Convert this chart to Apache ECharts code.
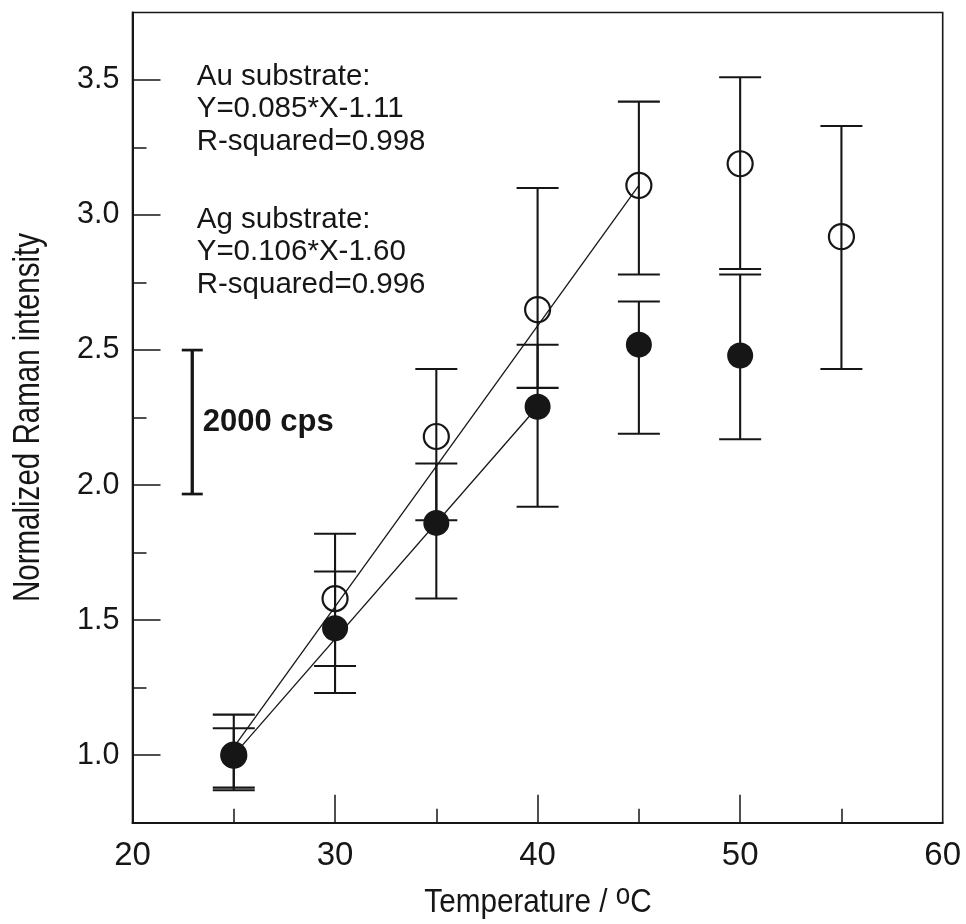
<!DOCTYPE html>
<html>
<head>
<meta charset="utf-8">
<script src="https://cdn.jsdelivr.net/npm/echarts@6/dist/echarts.min.js"></script>
<style>
  html, body { margin: 0; padding: 0; background: #fff; }
  #chart { width: 966px; height: 924px; }
</style>
</head>
<body>
<div id="chart"></div>
<script>
// ---- Data ----
const temps = [25, 30, 35, 40, 45, 50, 55];
// open circles (Ag substrate)
const agMean = [1.00, 1.58, 2.18, 2.65, 3.11, 3.19, 2.92];
const agLow  = [0.87, 1.33, 1.87, 2.36, 2.78, 2.80, 2.43];
const agHigh = [1.15, 1.82, 2.43, 3.10, 3.42, 3.51, 3.33];
// filled circles (Au substrate)
const auTemps = [25, 30, 35, 40, 45, 50];
const auMean = [1.00, 1.47, 1.86, 2.29, 2.52, 2.48];
const auLow  = [0.88, 1.23, 1.58, 1.92, 2.19, 2.17];
const auHigh = [1.10, 1.68, 2.08, 2.52, 2.68, 2.78];
// linear fit lines as drawn
const agFitX = [25, 45];
const agFitY = [1.03, 3.11];
const auFitX = [25, 40];
const auFitY = [1.00, 2.29];
// scale bar
const scaleBarX = 22.95;
const scaleBarLow = 1.967;
const scaleBarHigh = 2.5;
const scaleBarLabel = '2000 cps';
// axes
const xMin = 20, xMax = 60;
const yMin = 0.75, yMax = 3.75;
const xLabelValues = [20, 30, 40, 50, 60];
const xMajorTicks = [30, 40, 50];
const xMinorTicks = [25, 35, 45, 55];
const yMajorTicks = [1.0, 1.5, 2.0, 2.5, 3.0, 3.5];
const yMinorTicks = [1.25, 1.75, 2.25, 2.75, 3.25];
const auText = ['Au substrate:', 'Y=0.085*X-1.11', 'R-squared=0.998'];
const agText = ['Ag substrate:', 'Y=0.106*X-1.60', 'R-squared=0.996'];

const INK = '#161616';
const SANS = "'Liberation Sans', Arial, sans-serif";

const chart = echarts.init(document.getElementById('chart'), null, { renderer: 'canvas' });

function errorBarRender(capHalf, lw) {
  return function (params, api) {
    const x = api.value(0), lo = api.value(1), hi = api.value(2);
    const pLo = api.coord([x, lo]);
    const pHi = api.coord([x, hi]);
    const st = { stroke: INK, lineWidth: lw };
    return {
      type: 'group',
      children: [
        { type: 'line', shape: { x1: pLo[0], y1: pLo[1], x2: pHi[0], y2: pHi[1] }, style: st },
        { type: 'line', shape: { x1: pLo[0] - capHalf, y1: pLo[1], x2: pLo[0] + capHalf, y2: pLo[1] }, style: st },
        { type: 'line', shape: { x1: pHi[0] - capHalf, y1: pHi[1], x2: pHi[0] + capHalf, y2: pHi[1] }, style: st }
      ]
    };
  };
}

const option = {
  backgroundColor: '#fff',
  animation: false,
  grid: {
    left: 132.5, right: 23.3, top: 12.5, bottom: 101.3,
    show: true, borderColor: INK, borderWidth: 1.6, backgroundColor: 'transparent'
  },
  xAxis: [
    {
      type: 'value', min: xMin, max: xMax, position: 'bottom',
      axisLine: { show: true, lineStyle: { color: INK, width: 2 } },
      axisTick: { show: true, inside: true, length: 28, customValues: xMajorTicks, lineStyle: { color: INK, width: 1.5 } },
      axisLabel: {
        show: true, customValues: xLabelValues, margin: 17,
        fontFamily: SANS, fontSize: 33, color: INK
      },
      splitLine: { show: false }
    },
    {
      type: 'value', min: xMin, max: xMax, position: 'bottom',
      axisLine: { show: false },
      axisTick: { show: true, inside: true, length: 14, customValues: xMinorTicks, lineStyle: { color: INK, width: 1.5 } },
      axisLabel: { show: false },
      splitLine: { show: false }
    }
  ],
  yAxis: [
    {
      type: 'value', min: yMin, max: yMax, position: 'left',
      axisLine: { show: true, lineStyle: { color: INK, width: 2 } },
      axisTick: { show: true, inside: true, length: 28, customValues: yMajorTicks, lineStyle: { color: INK, width: 1.5 } },
      axisLabel: {
        show: true, customValues: yMajorTicks, margin: 13,
        fontFamily: SANS, fontSize: 30.5, color: INK,
        formatter: v => Number(v).toFixed(1)
      },
      splitLine: { show: false }
    },
    {
      type: 'value', min: yMin, max: yMax, position: 'left',
      axisLine: { show: false },
      axisTick: { show: true, inside: true, length: 14, customValues: yMinorTicks, lineStyle: { color: INK, width: 1.5 } },
      axisLabel: { show: false },
      splitLine: { show: false }
    }
  ],
  series: [
    {
      type: 'line', name: 'Ag fit', z: 1, silent: true,
      data: agFitX.map((x, i) => [x, agFitY[i]]),
      showSymbol: false, symbol: 'none',
      lineStyle: { color: INK, width: 1.3 }
    },
    {
      type: 'line', name: 'Au fit', z: 1, silent: true,
      data: auFitX.map((x, i) => [x, auFitY[i]]),
      showSymbol: false, symbol: 'none',
      lineStyle: { color: INK, width: 1.3 }
    },
    {
      type: 'custom', name: 'Ag error', z: 2, silent: true,
      renderItem: errorBarRender(21, 2.1),
      encode: { x: 0, y: [1, 2] },
      data: temps.map((t, i) => [t, agLow[i], agHigh[i]])
    },
    {
      type: 'custom', name: 'Au error', z: 2, silent: true,
      renderItem: errorBarRender(21, 2.1),
      encode: { x: 0, y: [1, 2] },
      data: auTemps.map((t, i) => [t, auLow[i], auHigh[i]])
    },
    {
      type: 'scatter', name: 'Ag', z: 3, silent: true,
      symbol: 'circle', symbolSize: 25,
      itemStyle: { color: 'rgba(255,255,255,0)', borderColor: INK, borderWidth: 2.2, opacity: 1 },
      data: temps.map((t, i) => [t, agMean[i]])
    },
    {
      type: 'scatter', name: 'Au', z: 4, silent: true,
      symbol: 'circle', symbolSize: 26,
      itemStyle: { color: INK, opacity: 1 },
      data: auTemps.map((t, i) => [t, auMean[i]])
    },
    {
      type: 'custom', name: 'scale bar', z: 2, silent: true,
      encode: { x: 0, y: [1, 2] },
      data: [[scaleBarX, scaleBarLow, scaleBarHigh]],
      renderItem: function (params, api) {
        const x = api.value(0), lo = api.value(1), hi = api.value(2);
        const pLo = api.coord([x, lo]);
        const pHi = api.coord([x, hi]);
        const capHalf = 10.5;
        const st = { stroke: INK, lineWidth: 3.3 };
        const cst = { stroke: INK, lineWidth: 2.7 };
        return {
          type: 'group',
          children: [
            { type: 'line', shape: { x1: pLo[0], y1: pLo[1], x2: pHi[0], y2: pHi[1] }, style: st },
            { type: 'line', shape: { x1: pLo[0] - capHalf, y1: pLo[1], x2: pLo[0] + capHalf, y2: pLo[1] }, style: cst },
            { type: 'line', shape: { x1: pHi[0] - capHalf, y1: pHi[1], x2: pHi[0] + capHalf, y2: pHi[1] }, style: cst },
            {
              type: 'text',
              x: pLo[0] + 10.5, y: (pLo[1] + pHi[1]) / 2 + 0.5,
              style: {
                text: scaleBarLabel, fill: INK,
                font: 'bold 31px ' + SANS,
                align: 'left', verticalAlign: 'middle'
              }
            }
          ]
        };
      }
    }
  ],
  graphic: [
    {
      type: 'text', left: 196.7, top: 60.3, silent: true,
      style: {
        text: auText.join('\n'), fill: INK,
        fontFamily: SANS, fontSize: 29.5, lineHeight: 32.5
      }
    },
    {
      type: 'text', left: 196.7, top: 203.5, silent: true,
      style: {
        text: agText.join('\n'), fill: INK,
        fontFamily: SANS, fontSize: 29.5, lineHeight: 32.5
      }
    },
    {
      type: 'text', x: 29, y: 417.5, rotation: Math.PI / 2, scaleX: 0.82, silent: true,
      style: {
        text: 'Normalized Raman intensity', fill: INK,
        fontFamily: SANS, fontSize: 36,
        align: 'center', verticalAlign: 'middle'
      }
    },
    {
      type: 'text', x: 538, y: 903, scaleX: 0.9, silent: true,
      style: {
        text: 'Temperature / {sup|o}C', fill: INK,
        fontFamily: SANS, fontSize: 33, lineHeight: 36,
        align: 'center', verticalAlign: 'middle',
        rich: {
          sup: { fontFamily: SANS, fontSize: 29, lineHeight: 22, padding: [0, 0, 14, 0], fill: INK }
        }
      }
    }
  ]
};

chart.setOption(option);
</script>
</body>
</html>
